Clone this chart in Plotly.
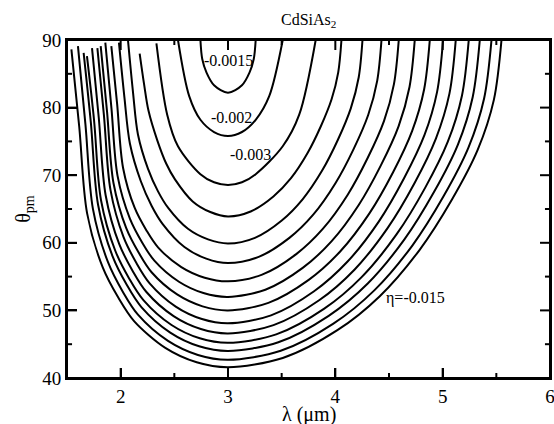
import plotly.graph_objects as go

title_text = "CdSiAs<sub>2</sub>"
x_title = "λ (μm)"
y_title = "θ<sub>pm</sub>"

# contour curves eta(λ, θpm): points (λ in µm, θpm in degrees), left top -> minimum -> right top
c_lam = [
    [2.743, 2.76, 2.80, 2.87, 3.0, 3.13, 3.20, 3.24, 3.258],
    [2.534, 2.6385, 2.743, 2.87, 3.0, 3.13, 3.258, 3.384, 3.510],
    [2.333, 2.4335, 2.534, 2.743, 2.87, 3.0, 3.13, 3.258, 3.510, 3.6635, 3.817],
    [2.177, 2.218, 2.259, 2.342, 2.424, 2.506, 2.671, 2.835, 3.0, 3.211, 3.423, 3.587, 3.740, 3.865, 3.965, 4.027, 4.057],
    [2.068, 2.115, 2.161, 2.254, 2.348, 2.441, 2.627, 2.814, 3.0, 3.251, 3.501, 3.695, 3.877, 4.025, 4.144, 4.218, 4.253],
    [1.984, 2.035, 2.086, 2.187, 2.289, 2.390, 2.594, 2.797, 3.0, 3.286, 3.572, 3.794, 4.001, 4.170, 4.306, 4.390, 4.430],
    [1.913, 1.967, 2.022, 2.130, 2.239, 2.348, 2.565, 2.783, 3.0, 3.318, 3.636, 3.883, 4.114, 4.301, 4.453, 4.546, 4.591],
    [1.857, 1.914, 1.971, 2.086, 2.200, 2.314, 2.543, 2.771, 3.0, 3.348, 3.696, 3.966, 4.218, 4.423, 4.589, 4.691, 4.740],
    [1.814, 1.873, 1.933, 2.051, 2.170, 2.288, 2.526, 2.763, 3.0, 3.376, 3.752, 4.043, 4.316, 4.538, 4.716, 4.827, 4.880],
    [1.783, 1.844, 1.905, 2.026, 2.148, 2.270, 2.513, 2.757, 3.0, 3.401, 3.802, 4.112, 4.403, 4.639, 4.830, 4.948, 5.004],
    [1.733, 1.796, 1.860, 1.986, 2.113, 2.240, 2.493, 2.747, 3.0, 3.424, 3.849, 4.178, 4.485, 4.736, 4.937, 5.063, 5.122],
    [1.686, 1.752, 1.817, 1.949, 2.080, 2.212, 2.474, 2.737, 3.0, 3.449, 3.897, 4.245, 4.570, 4.835, 5.048, 5.180, 5.243],
    [1.655, 1.722, 1.789, 1.924, 2.058, 2.193, 2.462, 2.731, 3.0, 3.469, 3.938, 4.302, 4.642, 4.919, 5.142, 5.280, 5.346],
    [1.602, 1.672, 1.742, 1.882, 2.021, 2.161, 2.441, 2.720, 3.0, 3.491, 3.982, 4.363, 4.719, 5.008, 5.241, 5.386, 5.455],
    [1.541, 1.614, 1.687, 1.833, 1.979, 2.125, 2.416, 2.708, 3.0, 3.510, 4.019, 4.414, 4.784, 5.084, 5.326, 5.477, 5.548],
]
c_theta = [
    [90, 87.19, 85.17, 83.30, 82.2, 83.30, 85.17, 87.19, 90],
    [90, 81.70, 78.20, 76.39, 75.8, 76.39, 78.20, 81.70, 90],
    [89.5, 78.95, 74.28, 70.15, 68.95, 68.55, 68.95, 70.15, 74.28, 78.95, 90],
    [88.0, 83.48, 79.56, 75.12, 71.73, 69.38, 66.12, 64.55, 63.9, 64.63, 66.85, 69.56, 73.24, 77.24, 81.23, 85.22, 90],
    [90, 82.26, 76.03, 70.98, 67.61, 65.20, 62.07, 60.50, 59.9, 60.74, 63.30, 66.43, 70.68, 75.28, 79.89, 84.49, 90],
    [89.6, 81.52, 74.69, 69.14, 65.45, 62.81, 59.38, 57.66, 57.0, 57.92, 60.73, 64.16, 68.81, 73.86, 78.91, 83.96, 90],
    [89.1, 80.54, 71.11, 65.19, 61.87, 59.33, 56.41, 54.84, 54.3, 55.30, 58.33, 62.05, 67.08, 72.54, 78.00, 83.47, 90],
    [89.6, 79.93, 69.90, 63.59, 60.06, 57.36, 54.24, 52.57, 52.0, 53.06, 56.29, 60.25, 65.60, 71.42, 77.23, 83.05, 90],
    [89.1, 79.40, 68.84, 62.20, 58.48, 55.64, 52.36, 50.60, 50.0, 51.12, 54.52, 58.68, 64.32, 70.44, 76.56, 82.68, 90],
    [88.8, 78.90, 67.83, 60.88, 56.98, 54.01, 50.57, 48.73, 48.1, 49.27, 52.83, 57.19, 63.10, 69.51, 75.92, 82.33, 90],
    [88.8, 78.50, 67.04, 59.84, 55.80, 52.72, 49.16, 47.25, 46.6, 47.82, 51.50, 56.02, 62.14, 68.78, 75.42, 82.06, 90],
    [87.6, 78.13, 66.30, 58.86, 54.70, 51.52, 47.84, 45.87, 45.2, 46.45, 50.26, 54.92, 61.24, 68.09, 74.95, 81.80, 90],
    [88.1, 77.81, 65.67, 58.03, 53.75, 50.49, 46.71, 44.69, 44.0, 45.29, 49.20, 53.98, 60.47, 67.51, 74.54, 81.58, 90],
    [89.1, 77.47, 64.98, 57.13, 52.73, 49.37, 45.49, 43.41, 42.7, 44.02, 48.04, 52.96, 59.63, 66.87, 74.11, 81.34, 90],
    [88.6, 77.17, 64.40, 56.36, 51.86, 48.42, 44.46, 42.33, 41.6, 42.96, 47.07, 52.10, 58.93, 66.33, 73.74, 81.14, 90],
]

label_text = ["-0.0015", "-0.002", "-0.003", "η=-0.015"]
label_lam = [3.0, 3.03, 3.21, 4.75]
label_theta = [87.0, 78.6, 73.1, 51.9]

# axis ranges and tick positions
x_range = [1.5, 6]
y_range = [40, 90]
x_major = [2, 3, 4, 5]
x_minor = [2.5, 3.5, 4.5, 5.5]
y_major = [50, 60, 70, 80]
y_minor = [45, 55, 65, 75, 85]

FONT = "Liberation Serif"
# tick lengths in axis units (about 10 px major, 5 px minor)
TX_MAJ, TX_MIN = 0.093, 0.047
TY_MAJ, TY_MIN = 1.48, 0.74

fig = go.Figure()
for lam, th in zip(c_lam, c_theta):
    fig.add_trace(go.Scatter(x=lam, y=th, mode="lines",
                             line=dict(color="black", width=2, shape="spline", smoothing=0.9),
                             hoverinfo="skip", showlegend=False))

for t, lx, ly in zip(label_text, label_lam, label_theta):
    fig.add_annotation(x=lx, y=ly, text=t, showarrow=False,
                       font=dict(family=FONT, size=16, color="black"))

fig.add_annotation(x=0.5, y=1.058, xref="paper", yref="paper", text=title_text,
                   showarrow=False, yanchor="middle", xanchor="center",
                   font=dict(family=FONT, size=16, color="black"))

# x-axis title placed below the tick labels
fig.add_annotation(x=0.5, y=-0.107, xref="paper", yref="paper", text=x_title,
                   showarrow=False, yanchor="middle", xanchor="center",
                   font=dict(family=FONT, size=20, color="black"))

# inward tick marks on all four sides of the frame
tick_line = dict(color="black", width=2)
for vals, ln in ((x_major, TY_MAJ), (x_minor, TY_MIN)):
    for v in vals:
        fig.add_shape(type="line", xref="x", yref="y", x0=v, x1=v,
                      y0=y_range[0], y1=y_range[0] + ln, line=tick_line, layer="above")
        fig.add_shape(type="line", xref="x", yref="y", x0=v, x1=v,
                      y0=y_range[1], y1=y_range[1] - ln, line=tick_line, layer="above")
for vals, ln in ((y_major, TX_MAJ), (y_minor, TX_MIN)):
    for v in vals:
        fig.add_shape(type="line", xref="x", yref="y", y0=v, y1=v,
                      x0=x_range[0], x1=x_range[0] + ln, line=tick_line, layer="above")
        fig.add_shape(type="line", xref="x", yref="y", y0=v, y1=v,
                      x0=x_range[1], x1=x_range[1] - ln, line=tick_line, layer="above")

fig.add_shape(type="rect", xref="paper", yref="paper", x0=0, y0=0, x1=1, y1=1,
              line=dict(color="black", width=2), fillcolor="rgba(0,0,0,0)", layer="above")

fig.update_layout(
    width=554, height=424,
    margin=dict(l=67, r=4, t=40, b=46, autoexpand=False),
    plot_bgcolor="white", paper_bgcolor="white", showlegend=False,
    xaxis=dict(range=x_range, tick0=2, dtick=1, showline=True, linewidth=2, linecolor="black",
               mirror=True, ticklabeloverflow="allow", showgrid=False, zeroline=False,
               ticks="inside", ticklen=10, tickwidth=2, tickcolor="black",
               tickfont=dict(family=FONT, size=19, color="black")),
    yaxis=dict(range=y_range, tick0=40, dtick=10, showline=True, linewidth=2, linecolor="black",
               mirror=True, showgrid=False, zeroline=False,
               ticks="inside", ticklen=10, tickwidth=2, tickcolor="black",
               tickfont=dict(family=FONT, size=19, color="black"),
               title=dict(text=y_title, font=dict(family=FONT, size=20, color="black"), standoff=6)),
)

fig.write_html("out.html")
